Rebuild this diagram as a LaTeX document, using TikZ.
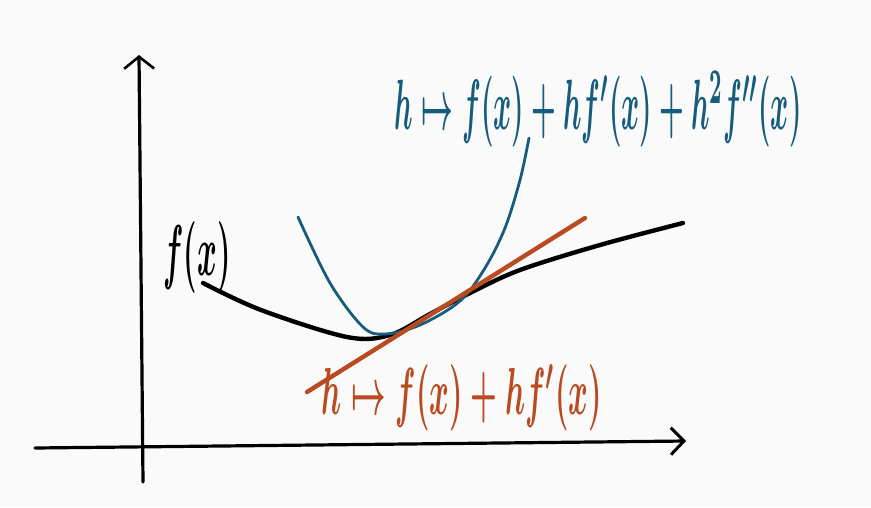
\documentclass[tikz,border=0pt]{standalone}
\usepackage{graphicx}
\usetikzlibrary{arrows.meta}
\definecolor{sketchblue}{RGB}{22,92,125}
\definecolor{sketchorange}{RGB}{186,74,32}
\definecolor{paper}{RGB}{250,250,250}
\tikzset{
  axisline/.style={line width=3.2pt, line cap=round, black},
  fcurve/.style={line width=4.4pt, line cap=round, black},
  taylortwo/.style={line width=2.8pt, line cap=round, sketchblue},
  taylorone/.style={line width=4.4pt, line cap=round, sketchorange},
  lbl/.style={inner sep=0pt, font=\boldmath}
}
\begin{document}
\begin{tikzpicture}[x=1pt,y=-1pt]
\fill[paper] (0,0) rectangle (871,507);
\useasboundingbox (0,0) rectangle (871,507);
% axes
\coordinate (ybot) at (143,482);
\coordinate (ytop) at (139,55);
\coordinate (xleft) at (35,448);
\coordinate (xright) at (686,441);
\draw[axisline, -{Straight Barb[length=12pt,width=30pt,line width=2.6pt]}] (ybot) -- (ytop);
\draw[axisline, -{Straight Barb[length=13pt,width=27pt,line width=3pt]}] (xleft) -- (xright);
% black function
\draw[fcurve] plot[smooth, tension=0.55] coordinates {(203,283) (261,310) (347,337) (390,335) (430,314) (470,293) (520,270) (600,245) (683,223)};
% second-order approximation
\draw[taylortwo] plot[smooth, tension=0.55] coordinates {(298,217) (330,283) (363,327) (385,334) (420,325) (460,301) (485,268) (505,228) (520,180) (529,138)};
% first-order approximation
\coordinate (oa) at (307,392);
\coordinate (ob) at (585,218);
\draw[taylorone] (oa) -- (ob);
% labels
\node[lbl, text=sketchblue] (blue) at (598,109) {\resizebox{407pt}{58pt}{$h\mapsto f(x)+hf'(x)+h^2f''(x)$}};
\node[lbl, text=sketchorange] (orange) at (462,398) {\resizebox{280pt}{50pt}{$h\mapsto f(x)+hf'(x)$}};
\node[lbl, text=black] (fx) at (197,257) {\resizebox{67pt}{54pt}{$f(x)$}};
\end{tikzpicture}
\end{document}
